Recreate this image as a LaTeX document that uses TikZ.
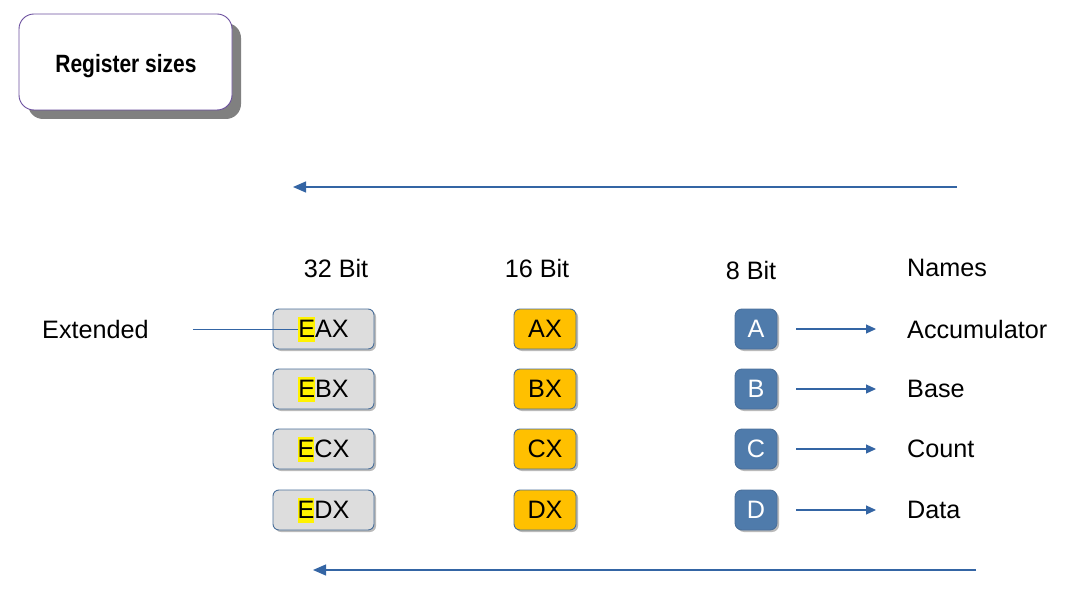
\documentclass[tikz,border=0pt]{standalone}
\usepackage{fontspec}
\setmainfont{Liberation Sans}
\usetikzlibrary{arrows.meta,shadows}
\definecolor{arrowblue}{HTML}{3465A4}
\definecolor{boxborder}{HTML}{4A6F9A}
\definecolor{grayfill}{HTML}{DDDDDD}
\definecolor{orangefill}{HTML}{FFC000}
\definecolor{bluefill}{HTML}{4F7BAB}
\definecolor{titleborder}{HTML}{6B4F9E}
\newcommand\hlE{{\setlength{\fboxsep}{0pt}\colorbox{yellow}{\rule[-4pt]{0pt}{25pt}E}}}
\tikzset{
  txt/.style={font=\fontsize{25.2}{30}\selectfont, inner sep=0pt},
  regbox/.style={draw=boxborder, line width=0.9pt, rounded corners=6pt, minimum height=40pt, inner sep=0pt,
    font=\fontsize{25.2}{30}\selectfont,
    drop shadow={shadow xshift=2pt, shadow yshift=-2pt, fill=black!45, opacity=0.6}},
  bigbox/.style={regbox, fill=grayfill, minimum width=101pt},
  midbox/.style={regbox, fill=orangefill, minimum width=62pt},
  smallbox/.style={regbox, fill=bluefill, minimum width=42pt, text=white, rounded corners=7pt},
  flow/.style={draw=arrowblue, line width=1.2pt, -{Triangle[length=13pt,width=11pt]}},
  namearrow/.style={draw=arrowblue, line width=1.1pt, -{Triangle[length=10pt,width=9pt]}, shorten <=19pt, shorten >=31pt},
}
\begin{document}
\begin{tikzpicture}[x=1pt,y=-1pt]
\useasboundingbox (0,0) rectangle (1086,612);
% title
\node[draw=titleborder, line width=0.9pt, fill=white, rounded corners=15pt, minimum width=213pt, minimum height=96pt,
  drop shadow={shadow xshift=9pt, shadow yshift=-9pt, fill=black!50, opacity=1}] (title) at (125.5,62) {};
\node[inner sep=0pt, font=\fontsize{25}{30}\selectfont\bfseries] (titletxt) at (126,66) {\scalebox{0.84}[1]{Register sizes}};
% top and bottom arrows
\coordinate (t1) at (957,187);
\coordinate (t2) at (293,187);
\coordinate (b1) at (976,570);
\coordinate (b2) at (313,570);
\draw[flow] (t1) -- (t2);
\draw[flow] (b1) -- (b2);
% headers
\node[txt] (h32) at (336,268) {32 Bit};
\node[txt] (h16) at (537,268) {16 Bit};
\node[txt] (h8) at (751,270) {8 Bit};
\node[txt, anchor=west] (hn) at (907,268) {Names};
% rows
\node[bigbox] (eax) at (323.5,329) {\hlE AX};
\node[bigbox] (ebx) at (323.5,389) {\hlE BX};
\node[bigbox] (ecx) at (323.5,449) {\hlE CX};
\node[bigbox] (edx) at (323.5,510) {\hlE DX};
\node[midbox] (ax) at (545,329) {AX};
\node[midbox] (bx) at (545,389) {BX};
\node[midbox] (cx) at (545,449) {CX};
\node[midbox] (dx) at (545,510) {DX};
\node[smallbox] (a) at (756,329) {A};
\node[smallbox] (b) at (756,389) {B};
\node[smallbox] (c) at (756,449) {C};
\node[smallbox] (d) at (756,510) {D};
\node[txt, anchor=west] (na) at (907,329) {Accumulator};
\node[txt, anchor=west] (nb) at (907,389) {Base};
\node[txt, anchor=west] (nc) at (907,449) {Count};
\node[txt, anchor=west] (nd) at (907,510) {Data};
\draw[namearrow] (a.east) -- (na.west);
\draw[namearrow] (b.east) -- (nb.west);
\draw[namearrow] (c.east) -- (nc.west);
\draw[namearrow] (d.east) -- (nd.west);
% extended
\node[txt, anchor=west] (ext) at (42,329) {Extended};
\coordinate (eaxE) at ([xshift=25pt]eax.west);
\draw[draw=arrowblue, line width=1pt, shorten <=44pt] (ext.east) -- (eaxE);
\end{tikzpicture}
\end{document}
